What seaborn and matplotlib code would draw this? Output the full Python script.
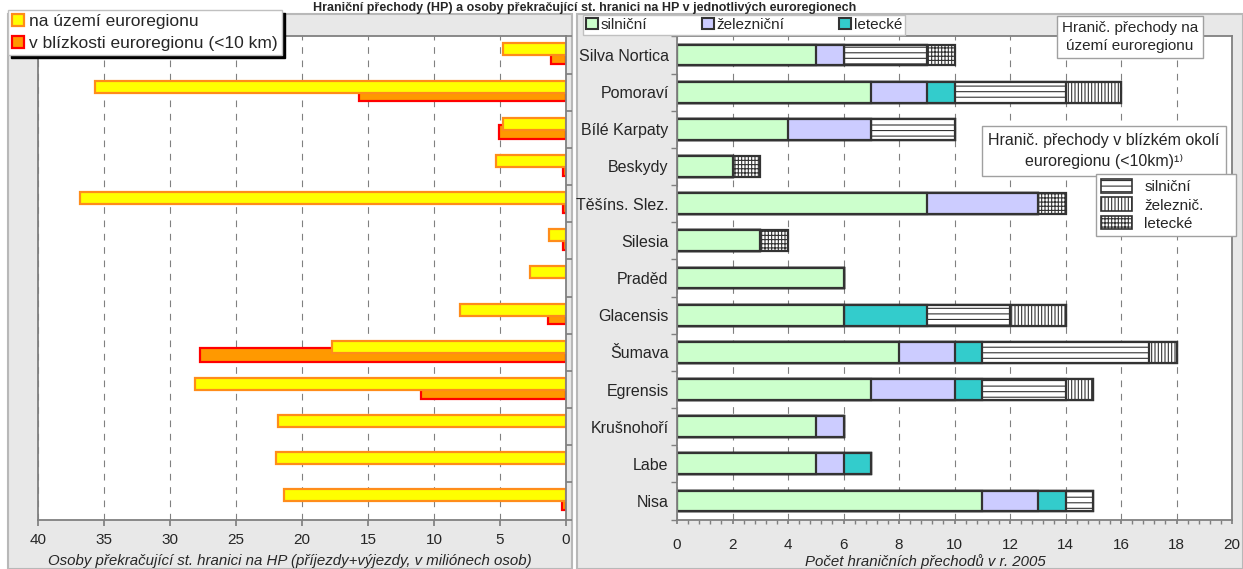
import numpy as np
import matplotlib
matplotlib.use("Agg")
import matplotlib.pyplot as plt
import seaborn as sns
from matplotlib.patches import Patch, Rectangle
from matplotlib.ticker import MultipleLocator

sns.set_theme(style="white")
plt.rcParams['font.family'] = ['Liberation Sans', 'DejaVu Sans']
plt.rcParams['hatch.linewidth'] = 0.8

# data
regions = ["Silva Nortica", "Pomoraví", "Bílé Karpaty", "Beskydy", "Těšíns. Slez.",
           "Silesia", "Praděd", "Glacensis", "Šumava", "Egrensis", "Krušnohoří",
           "Labe", "Nisa"]

# osoby prekracujici hranici (mil.)
osoby_uzemi = [4.8, 35.7, 4.8, 5.3, 36.8, 1.3, 2.7, 8.0, 17.7, 28.1, 21.8, 22.0, 21.4]
osoby_blizko = [1.1, 15.7, 5.1, 0.2, 0.2, 0.2, 0.0, 1.4, 27.7, 11.0, 0.0, 0.0, 0.3]

# pocet HP na uzemi euroregionu
hp_silnicni = [5, 7, 4, 2, 9, 3, 6, 6, 8, 7, 5, 5, 11]
hp_zeleznicni = [1, 2, 3, 0, 4, 0, 0, 0, 2, 3, 1, 1, 2]
hp_letecke = [0, 1, 0, 0, 0, 0, 0, 3, 1, 1, 0, 1, 1]
# pocet HP v blizkem okoli (<10 km)
okoli_silnicni = [3, 4, 3, 0, 0, 0, 0, 3, 6, 3, 0, 0, 1]
okoli_zeleznicni = [0, 2, 0, 0, 0, 0, 0, 2, 1, 1, 0, 0, 0]
okoli_letecke = [1, 0, 0, 1, 1, 1, 0, 0, 0, 0, 0, 0, 0]

title = "Hraniční přechody (HP) a osoby překračující st. hranici na HP v jednotlivých euroregionech"

W, H = 1243, 569
fig = plt.figure(figsize=(W / 100, H / 100), dpi=100, facecolor="white")

# panel backgrounds
fig.add_artist(Rectangle((8 / W, 0), 564 / W, 1 - 14 / H, transform=fig.transFigure,
                         fc="#e8e8e8", ec="#b8b8b8", lw=1.5, zorder=-5))
fig.add_artist(Rectangle((577 / W, 0), 666 / W, 1 - 14 / H, transform=fig.transFigure,
                         fc="#e8e8e8", ec="#b8b8b8", lw=1.5, zorder=-5))

fig.text(0.47, 1 - 10.5 / H, title, ha="center", va="baseline", fontsize=9, fontweight="bold")

grid_kw = dict(linestyle=(0, (6, 6)), color="#808080", lw=0.8)
spine_col = "#808080"

# -----------------------------
# left: osoby
# -----------------------------
axL = fig.add_axes([38 / W, 1 - 519.6 / H, 528 / W, 483.2 / H])
axL.set_facecolor("white")
sns.barplot(x=osoby_blizko, y=regions, orient="h", color="#ff9900", edgecolor="#ff0000",
            linewidth=1.6, width=0.36, saturation=1, errorbar=None, ax=axL)
n = len(axL.patches)
for p in axL.patches:
    p.set_y(p.get_y() + 0.07)
    if p.get_width() == 0:
        p.set_visible(False)
sns.barplot(x=osoby_uzemi, y=regions, orient="h", color="#ffff00", edgecolor="#ff8c1a",
            linewidth=1.6, width=0.32, saturation=1, errorbar=None, ax=axL)
for p in axL.patches[n:]:
    p.set_y(p.get_y() - 0.15)

axL.set_xlim(40, 0)
axL.set_ylim(12.5, -0.5)
axL.set_xticks(range(0, 45, 5))
axL.set_yticks(np.arange(-0.5, 13, 1))
axL.tick_params(axis="y", left=False, right=True, labelleft=False, length=4,
                color=spine_col, direction="out")
axL.tick_params(axis="x", bottom=True, length=4, color=spine_col, direction="out",
                labelsize=11, pad=6)
axL.grid(axis="x", **grid_kw)
axL.set_axisbelow(True)
axL.set_ylabel("")
axL.set_xlabel("Osoby překračující st. hranici na HP (příjezdy+výjezdy, v miliónech osob)",
               fontstyle="italic", fontsize=10.8)
axL.xaxis.set_label_coords(0.477, -0.071)
for s in axL.spines.values():
    s.set_color(spine_col)
    s.set_linewidth(1.3)

# -----------------------------
# right: pocet HP (stacked)
# -----------------------------
axR = fig.add_axes([677 / W, 1 - 519.6 / H, 555 / W, 483.2 / H])
axR.set_facecolor("white")
stack = np.cumsum([hp_silnicni, hp_zeleznicni, hp_letecke,
                   okoli_silnicni, okoli_zeleznicni, okoli_letecke], axis=0)
layers = [
    (stack[5], "white", "++++|"),
    (stack[4], "white", "|||||"),
    (stack[3], "white", "---"),
    (stack[2], "#33cccc", None),
    (stack[1], "#ccccff", None),
    (stack[0], "#ccffcc", None),
]
for vals, fc, hatch in layers:
    sns.barplot(x=vals, y=regions, orient="h", color=fc, hatch=hatch, edgecolor="#333333",
                linewidth=1.6, width=0.56, saturation=1, errorbar=None, ax=axR)

axR.set_xlim(0, 20)
axR.set_ylim(12.5, -0.5)
axR.xaxis.set_major_locator(MultipleLocator(2))
axR.xaxis.set_minor_locator(MultipleLocator(0.4))
axR.set_yticks(range(len(regions)))
axR.set_yticklabels(regions)
axR.set_yticks(np.arange(-0.5, 13, 1), minor=True)
axR.tick_params(axis="y", which="major", length=0, labelsize=11.5, pad=6)
axR.tick_params(axis="y", which="minor", left=True, length=4, color=spine_col, direction="out")
axR.tick_params(axis="x", which="both", bottom=True, length=3, color=spine_col,
                direction="out", labelsize=11, pad=10)
axR.grid(axis="x", which="major", **grid_kw)
axR.set_axisbelow(True)
axR.set_ylabel("")
axR.set_xlabel("Počet hraničních přechodů v r. 2005", fontstyle="italic", fontsize=10.8)
axR.xaxis.set_label_coords(0.447, -0.071)
for s in axR.spines.values():
    s.set_color(spine_col)
    s.set_linewidth(1.3)

# -----------------------------
# legends and notes
# -----------------------------
fig.legend(
    [Patch(fc="#ffff00", ec="#ff8c1a", lw=1.6), Patch(fc="#ff9900", ec="#ff0000", lw=1.6)],
    ["na území euroregionu", "v blízkosti euroregionu (<10 km)"],
    loc="upper left", bbox_to_anchor=(8 / W, 1 - 10 / H), borderaxespad=0,
    fancybox=False, framealpha=1, edgecolor="#c0c0c0", fontsize=12.5,
    shadow={"color": "black", "alpha": 1}, handlelength=0.7, handleheight=0.7,
    handletextpad=0.25, borderpad=0.25, labelspacing=0.35)

fig.legend(
    [Patch(fc=c, ec="#333333", lw=1.5) for c in ["#ccffcc", "#ccccff", "#33cccc"]],
    ["silniční", "železniční", "letecké"],
    loc="lower left", bbox_to_anchor=(583 / W, 1 - 35 / H), ncol=3, borderaxespad=0,
    fancybox=False, framealpha=1, edgecolor="#c0c0c0", fontsize=11,
    handlelength=0.75, handleheight=0.75, handletextpad=0.2, borderpad=0.2,
    columnspacing=3.6)

fig.text(1130 / W, 1 - 37 / H, "Hranič. přechody na\núzemí euroregionu", ha="center",
         va="center", fontsize=11, linespacing=1.45,
         bbox=dict(boxstyle="square,pad=0.3", fc="white", ec="#a0a0a0", lw=1))
fig.text(1104 / W, 1 - 151 / H, "Hranič. přechody v blízkém okolí\neuroregionu (<10km)¹⁾",
         ha="center", va="center", fontsize=11.5, linespacing=1.55,
         bbox=dict(boxstyle="square,pad=0.4", fc="white", ec="#a0a0a0", lw=1))

fig.legend(
    [Patch(fc="white", ec="#333333", lw=1.2, hatch=h) for h in ["---", "|||||", "++++|"]],
    ["silniční", "železnič.", "letecké"],
    loc="upper left", bbox_to_anchor=(1096 / W, 1 - 244 / H, 140 / W, 70 / H), mode="expand",
    borderaxespad=0, fancybox=False, framealpha=1, edgecolor="#a0a0a0", fontsize=11,
    handlelength=2.0, handleheight=1.0, handletextpad=0.8, borderpad=0.35,
    labelspacing=0.2)

fig.savefig("out.png", dpi=100)
